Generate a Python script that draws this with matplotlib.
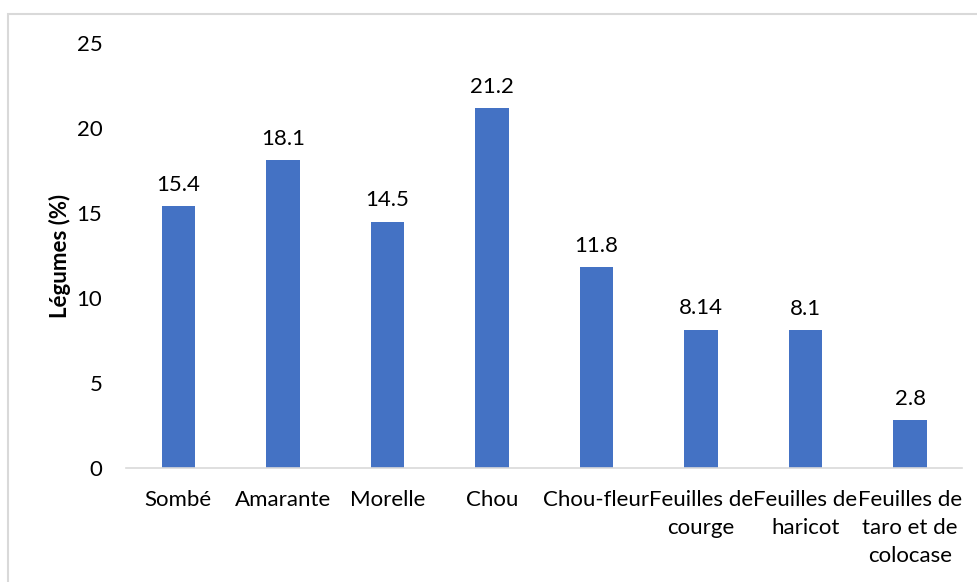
import matplotlib.pyplot as plt
from matplotlib.patches import Rectangle

# categories and values (%)
legumes = ["Sombé", "Amarante", "Morelle", "Chou", "Chou-fleur",
           "Feuilles de\ncourge", "Feuilles de\nharicot", "Feuilles de\ntaro et de\ncolocase"]
valeurs = [15.4, 18.1, 14.5, 21.2, 11.8, 8.14, 8.1, 2.8]
etiquettes = ["15.4", "18.1", "14.5", "21.2", "11.8", "8.14", "8.1", "2.8"]

plt.rcParams['font.family'] = ['Lato', 'DejaVu Sans']
fs = 16

fig = plt.figure(figsize=(9.77, 5.82), dpi=100)
ax = fig.add_axes([0.129, 0.196, 0.856, 0.730])

x = range(len(legumes))
bars = ax.bar(x, valeurs, width=0.32, color="#4472C4", zorder=2)

for b, lab in zip(bars, etiquettes):
    ax.annotate(lab, (b.get_x() + b.get_width() / 2, b.get_height()),
                xytext=(0, 8), textcoords="offset points",
                ha="center", va="bottom", fontsize=fs, color="#000000")

ax.set_xlim(-0.5, len(legumes) - 0.5)
ax.set_ylim(0, 25)
ax.set_yticks(range(0, 26, 5))
ax.set_xticks(list(x))
ax.set_xticklabels(legumes, fontsize=fs, linespacing=1.5, va="top")
ax.tick_params(axis="y", labelsize=fs, length=0, pad=17)
ax.tick_params(axis="x", length=0, pad=16)
ax.set_ylabel("Légumes (%)", fontsize=fs, fontweight="bold", labelpad=4)

for side in ["top", "right", "left"]:
    ax.spines[side].set_visible(False)
ax.spines["bottom"].set_color("#D9D9D9")
ax.spines["bottom"].set_linewidth(1.2)

# chart area border
fig.patches.append(Rectangle((8 / 977, -0.01), 1.02, 1 - 14 / 582 + 0.01,
                             transform=fig.transFigure, fill=False,
                             edgecolor="#D9D9D9", linewidth=1.5))

fig.savefig("out.png", dpi=100)
